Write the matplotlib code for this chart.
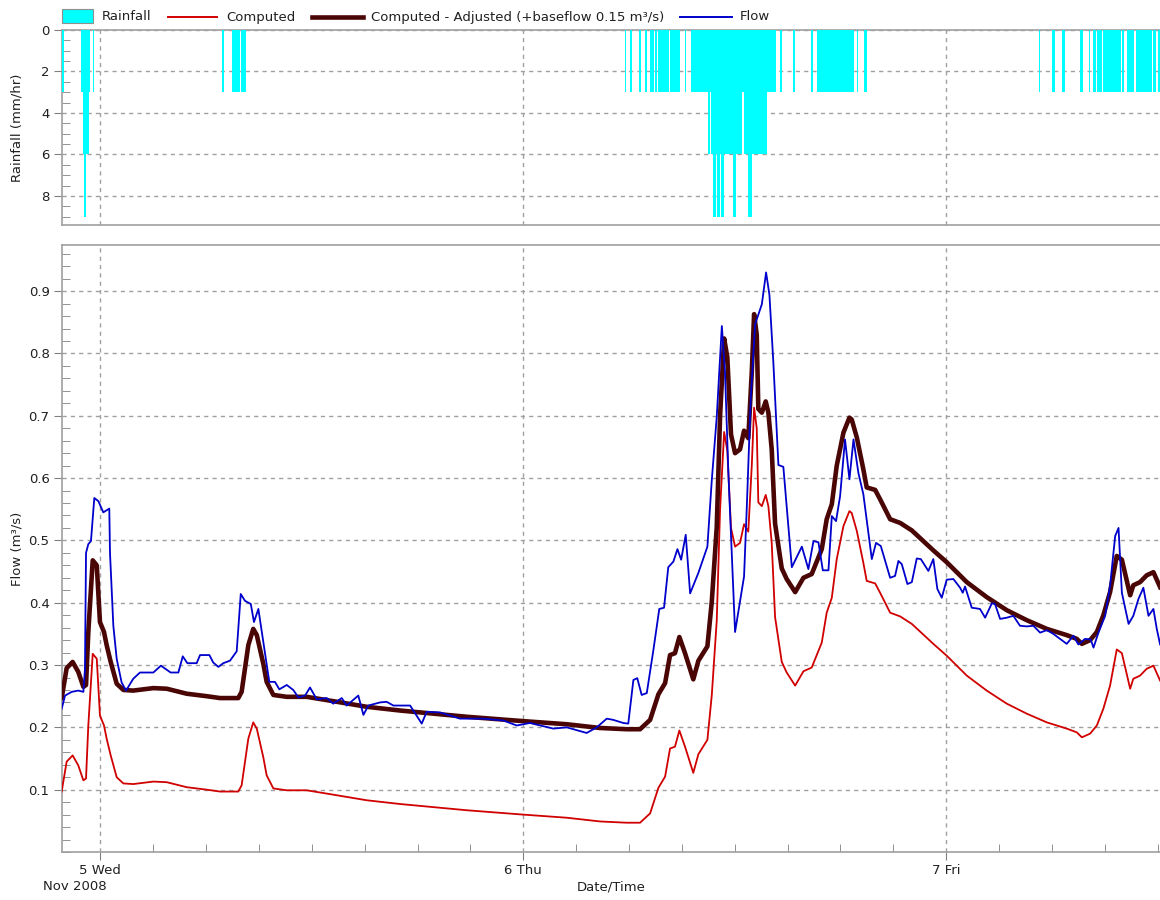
import numpy as np
import pandas as pd
import matplotlib
matplotlib.use("Agg")
import matplotlib.pyplot as plt
import matplotlib.dates as mdates
from matplotlib.lines import Line2D
from matplotlib.patches import Rectangle
from matplotlib.ticker import MultipleLocator, FixedLocator

plt.rcParams["font.family"] = ["DejaVu Sans"]

T0 = pd.Timestamp("2008-11-05 00:00")
BASEFLOW = 0.15  # m3/s added to the computed hydrograph

# Rainfall intensity runs (minutes from 5 Nov 00:00, mm/hr)
rain_start = [-130, -65, -60, -55, -50, -40, -25, 415, 450, 480,
              1785, 1805, 1835, 1855, 1870, 1890, 1900, 1940, 1990,
              2010, 2070, 2075, 2080, 2085, 2095, 2100, 2110, 2115, 2125,
              2155, 2165, 2185, 2190, 2205, 2220, 2270,
              2315, 2360, 2420, 2440, 2575, 2600,
              3195, 3240, 3275, 3335, 3365, 3380, 3395, 3415, 3480,
              3495, 3525, 3545, 3585, 3600]
rain_end = [-125, -60, -55, -50, -40, -35, -20, 420, 475, 495,
            1790, 1810, 1840, 1860, 1885, 1895, 1935, 1975, 1995,
            2070, 2075, 2080, 2085, 2095, 2100, 2110, 2115, 2125, 2155,
            2165, 2185, 2190, 2205, 2220, 2270, 2300,
            2320, 2365, 2425, 2565, 2580, 2610,
            3200, 3250, 3285, 3345, 3370, 3390, 3410, 3475, 3485,
            3520, 3545, 3580, 3595, 3610]
rain_rate = [3, 3, 6, 9, 6, 3, 3, 3, 3, 3,
             3, 3, 3, 3, 3, 3, 3, 3, 3,
             3, 6, 3, 6, 9, 6, 9, 6, 9, 6,
             9, 6, 3, 6, 9, 6, 3,
             3, 3, 3, 3, 3, 3,
             3, 3, 3, 3, 3, 3, 3, 3, 3,
             3, 3, 3, 3, 3]

# Computed flow (hours from 5 Nov 00:00, m3/s)
computed_hours = [-2.19, -1.91, -1.57, -1.25, -0.96, -0.81, -0.68, -0.43, -0.20, -0.02,
                  0.21, 0.36, 0.59, 0.93, 1.31, 1.87, 3.01, 3.77, 4.90, 6.04,
                  6.79, 7.83, 8.02, 8.40, 8.68, 8.88, 9.25, 9.44, 9.82, 10.58,
                  11.71, 13.22, 15.12, 17.01, 20.79, 24.00, 26.47, 28.36, 29.87, 30.63,
                  31.20, 31.67, 32.05, 32.33, 32.61, 32.86, 33.18, 33.65, 33.94, 34.45,
                  34.70, 34.98, 35.17, 35.40, 35.58, 35.79, 36.02, 36.30, 36.53, 36.77,
                  36.97, 37.10, 37.25, 37.34, 37.54, 37.76, 37.91, 38.10, 38.29, 38.67,
                  38.95, 39.43, 39.90, 40.37, 40.94, 41.22, 41.51, 41.79, 42.17, 42.51,
                  42.64, 42.93, 43.30, 43.49, 43.97, 44.25, 44.82, 45.39, 46.05, 47.27,
                  48.03, 49.17, 50.30, 51.44, 52.57, 53.71, 54.84, 55.41, 55.70, 56.17,
                  56.55, 56.92, 57.30, 57.68, 57.97, 58.44, 58.62, 59.00, 59.38, 59.76,
                  60.14]
computed_flow = [0.097, 0.145, 0.155, 0.139, 0.115, 0.118, 0.203, 0.318, 0.310, 0.219,
                 0.203, 0.182, 0.155, 0.120, 0.110, 0.109, 0.113, 0.112, 0.104, 0.100,
                 0.097, 0.097, 0.107, 0.182, 0.208, 0.198, 0.152, 0.123, 0.102, 0.099,
                 0.099, 0.092, 0.083, 0.077, 0.067, 0.060, 0.055, 0.049, 0.047, 0.047,
                 0.062, 0.103, 0.121, 0.166, 0.169, 0.195, 0.169, 0.127, 0.157, 0.180,
                 0.252, 0.371, 0.550, 0.674, 0.644, 0.520, 0.490, 0.496, 0.526, 0.514,
                 0.621, 0.713, 0.680, 0.561, 0.555, 0.573, 0.555, 0.496, 0.377, 0.305,
                 0.288, 0.267, 0.290, 0.296, 0.336, 0.384, 0.408, 0.470, 0.523, 0.547,
                 0.544, 0.515, 0.464, 0.435, 0.431, 0.416, 0.384, 0.378, 0.366, 0.334,
                 0.315, 0.283, 0.259, 0.238, 0.222, 0.208, 0.198, 0.192, 0.184, 0.190,
                 0.203, 0.230, 0.267, 0.325, 0.319, 0.262, 0.278, 0.283, 0.294, 0.299,
                 0.275]

# Observed flow (hours from 5 Nov 00:00, m3/s)
flow_hours = [-2.19, -2.00, -1.62, -1.25, -0.96, -0.87, -0.81, -0.68, -0.53, -0.34,
              -0.11, 0.17, 0.51, 0.55, 0.74, 0.93, 1.21, 1.46, 1.87, 2.25,
              3.01, 3.44, 3.99, 4.43, 4.68, 4.94, 5.47, 5.66, 6.19, 6.41,
              6.70, 6.98, 7.36, 7.74, 7.97, 8.21, 8.54, 8.72, 8.97, 9.25,
              9.59, 9.91, 10.16, 10.58, 10.95, 11.24, 11.62, 11.90, 12.28, 12.85,
              13.22, 13.70, 13.98, 14.64, 14.93, 15.21, 15.87, 16.25, 16.63, 17.58,
              18.24, 18.52, 19.28, 20.41, 20.98, 21.73, 22.87, 23.63, 24.38, 25.71,
              26.47, 27.60, 28.17, 28.74, 29.11, 29.68, 29.96, 30.25, 30.47, 30.72,
              31.01, 31.38, 31.72, 31.99, 32.23, 32.52, 32.75, 32.96, 33.22, 33.47,
              33.94, 34.45, 34.70, 34.98, 35.27, 35.45, 35.64, 36.02, 36.53, 36.68,
              36.91, 37.16, 37.54, 37.78, 37.97, 38.19, 38.48, 38.76, 39.24, 39.81,
              40.18, 40.47, 40.75, 41.00, 41.32, 41.51, 41.75, 41.98, 42.26, 42.51,
              42.74, 43.02, 43.30, 43.78, 44.02, 44.29, 44.82, 45.10, 45.29, 45.48,
              45.80, 46.05, 46.33, 46.56, 46.99, 47.27, 47.50, 47.75, 48.03, 48.41,
              48.79, 48.94, 49.07, 49.45, 49.92, 50.21, 50.59, 50.77, 51.06, 51.44,
              51.81, 52.19, 52.57, 52.95, 53.33, 53.71, 54.08, 54.46, 54.84, 55.22,
              55.50, 55.88, 56.20, 56.36, 56.64, 57.02, 57.30, 57.59, 57.78, 57.97,
              58.35, 58.62, 58.91, 59.19, 59.48, 59.76, 59.95, 60.14]
flow_obs = [0.230, 0.251, 0.257, 0.259, 0.257, 0.294, 0.480, 0.494, 0.499, 0.568,
            0.563, 0.545, 0.551, 0.480, 0.363, 0.310, 0.272, 0.259, 0.278, 0.288,
            0.288, 0.299, 0.288, 0.288, 0.314, 0.303, 0.303, 0.316, 0.316, 0.304,
            0.297, 0.303, 0.307, 0.322, 0.414, 0.403, 0.398, 0.369, 0.390, 0.337,
            0.273, 0.273, 0.261, 0.268, 0.260, 0.248, 0.251, 0.264, 0.245, 0.247,
            0.238, 0.247, 0.235, 0.251, 0.220, 0.235, 0.240, 0.241, 0.235, 0.235,
            0.206, 0.225, 0.224, 0.214, 0.214, 0.214, 0.211, 0.203, 0.207, 0.198,
            0.200, 0.191, 0.200, 0.214, 0.212, 0.207, 0.206, 0.276, 0.279, 0.252,
            0.255, 0.323, 0.390, 0.392, 0.457, 0.466, 0.486, 0.469, 0.509, 0.415,
            0.448, 0.490, 0.597, 0.698, 0.844, 0.769, 0.609, 0.353, 0.442, 0.549,
            0.728, 0.847, 0.879, 0.930, 0.894, 0.787, 0.621, 0.618, 0.457, 0.490,
            0.454, 0.499, 0.497, 0.452, 0.452, 0.539, 0.531, 0.571, 0.662, 0.598,
            0.662, 0.608, 0.574, 0.470, 0.496, 0.491, 0.440, 0.443, 0.467, 0.462,
            0.430, 0.433, 0.471, 0.470, 0.451, 0.470, 0.422, 0.408, 0.437, 0.438,
            0.424, 0.416, 0.426, 0.392, 0.390, 0.376, 0.399, 0.398, 0.374, 0.376,
            0.379, 0.363, 0.362, 0.363, 0.352, 0.356, 0.350, 0.342, 0.334, 0.347,
            0.333, 0.342, 0.341, 0.328, 0.352, 0.379, 0.427, 0.507, 0.520, 0.416,
            0.366, 0.379, 0.406, 0.424, 0.379, 0.390, 0.358, 0.333]

GRID = "#a0a0a0"
SPINE = "#a0a0a0"
TXT = "#202020"
C_RAIN = "#00ffff"
C_COMP = "#d00000"
C_ADJ = "#4a0505"
C_FLOW = "#0000cc"


def hours_to_num(h):
    return mdates.date2num(T0 + pd.to_timedelta(np.asarray(h, dtype=float), unit="h"))


W, H = 1160, 900
fig = plt.figure(figsize=(W / 100, H / 100), dpi=100)


def fx(px):
    return px / W


def fy(py):
    return 1 - py / H


left, right = 62, 1160
ax_r = fig.add_axes([fx(left), fy(225), fx(right - left), (225 - 30) / H])
ax_f = fig.add_axes([fx(left), fy(852), fx(right - left), (852 - 245) / H])

xmin = hours_to_num(-130.4 / 60)
xmax = hours_to_num(3608 / 60)

# Rainfall bars hanging from the top axis
rs = np.asarray(rain_start, float) / 60
re_ = np.asarray(rain_end, float) / 60
ax_r.bar(hours_to_num(rs), rain_rate, width=(re_ - rs) / 24, align="edge",
         color=C_RAIN, edgecolor="none", linewidth=0, zorder=3)
ax_r.set_ylim(9.4, 0)
ax_r.set_xlim(xmin, xmax)
ax_r.yaxis.set_major_locator(FixedLocator([0, 2, 4, 6, 8]))
ax_r.yaxis.set_minor_locator(MultipleLocator(0.5))
ax_r.set_ylabel("Rainfall (mm/hr)", fontsize=9.5, color=TXT)
ax_r.yaxis.set_label_coords(-0.035, 0.5)

# Flow hydrographs
t_c = hours_to_num(computed_hours)
comp = np.asarray(computed_flow)
ax_f.plot(t_c, comp, color=C_COMP, lw=1.3, zorder=3)
ax_f.plot(t_c, comp + BASEFLOW, color=C_ADJ, lw=3.3, zorder=4,
          solid_joinstyle="round")
ax_f.plot(hours_to_num(flow_hours), flow_obs, color=C_FLOW, lw=1.3, zorder=5)
ax_f.set_ylim(0, 0.974)
ax_f.set_xlim(xmin, xmax)
ax_f.yaxis.set_major_locator(FixedLocator([0.1, 0.2, 0.3, 0.4, 0.5, 0.6, 0.7, 0.8, 0.9]))
ax_f.yaxis.set_major_formatter(plt.FuncFormatter(lambda v, p: f"{v:.1f}"))
ax_f.yaxis.set_minor_locator(MultipleLocator(0.02))
ax_f.set_ylabel("Flow (m³/s)", fontsize=9.5, color=TXT)
ax_f.yaxis.set_label_coords(-0.035, 0.5)

for ax in (ax_r, ax_f):
    ax.xaxis.set_major_locator(mdates.DayLocator())
    ax.xaxis.set_major_formatter(mdates.DateFormatter("%-d %a"))
    ax.xaxis.set_minor_locator(mdates.HourLocator(byhour=range(0, 24, 3)))
    ax.grid(True, which="major", color=GRID, linestyle=(0, (3, 3)), linewidth=1)
    ax.set_axisbelow(True)
    for s in ("left", "bottom", "top"):
        ax.spines[s].set_color(SPINE)
        ax.spines[s].set_linewidth(1.2)
    ax.spines["right"].set_visible(False)
    ax.tick_params(which="major", direction="out", length=6, color="#808080",
                   labelsize=9.5, labelcolor=TXT, pad=3)
    ax.tick_params(which="minor", direction="in", length=6, color="#808080")

ax_r.tick_params(axis="x", which="both", bottom=False, labelbottom=False)
ax_f.tick_params(axis="x", which="minor", bottom=True)

fig.text(fx(75), fy(887), "Nov 2008", ha="center", va="center", fontsize=9.5, color=TXT)
fig.text(fx(611), fy(887), "Date/Time", ha="center", va="center", fontsize=9.5, color=TXT)

# Legend row across the top
ly = fy(17)
fig.add_artist(Rectangle((fx(62), fy(23)), fx(31), 14 / H, transform=fig.transFigure,
                         facecolor=C_RAIN, edgecolor="#909090", linewidth=0.8))
fig.text(fx(102), ly, "Rainfall", ha="left", va="center", fontsize=9.5, color=TXT)
fig.add_artist(Line2D([fx(168), fx(217)], [ly, ly], transform=fig.transFigure,
                      color=C_COMP, lw=1.4))
fig.text(fx(226), ly, "Computed", ha="left", va="center", fontsize=9.5, color=TXT)
fig.add_artist(Line2D([fx(312), fx(363)], [ly, ly], transform=fig.transFigure,
                      color=C_ADJ, lw=3.3))
fig.text(fx(371), ly, f"Computed - Adjusted (+baseflow {BASEFLOW:.2f} m³/s)",
         ha="left", va="center", fontsize=9.5, color=TXT)
fig.add_artist(Line2D([fx(680), fx(732)], [ly, ly], transform=fig.transFigure,
                      color=C_FLOW, lw=1.4))
fig.text(fx(740), ly, "Flow", ha="left", va="center", fontsize=9.5, color=TXT)

fig.savefig("out.png", dpi=100)
